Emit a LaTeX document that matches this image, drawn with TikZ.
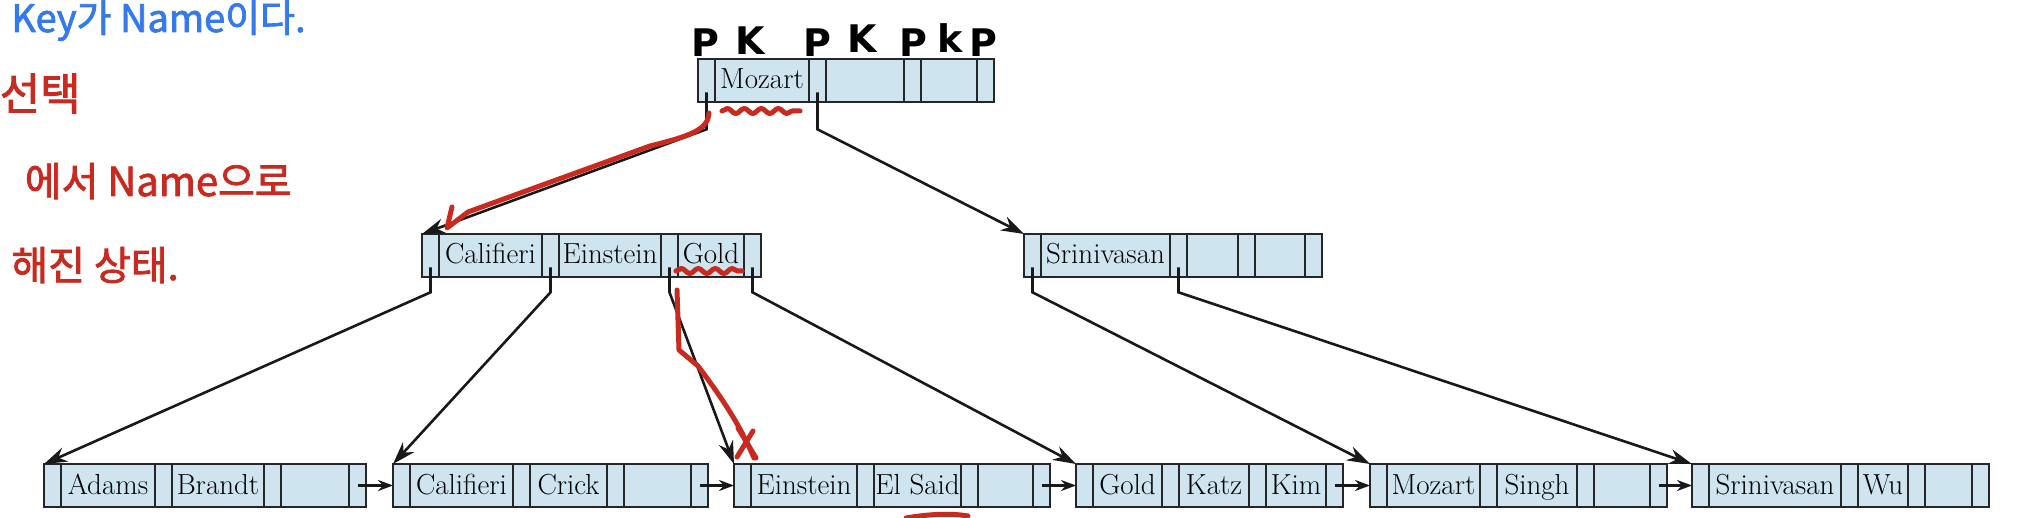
\documentclass[tikz,border=0pt]{standalone}
\usepackage{fontspec}
\newfontfamily\krfont[FakeBold=2]{Noto Sans CJK KR}
\newfontfamily\penfont{DejaVu Sans}
\usetikzlibrary{positioning,arrows.meta,calc,decorations.pathmorphing}

\definecolor{cellblue}{RGB}{206,228,238}
\definecolor{redpen}{RGB}{200,42,32}
\definecolor{bluepen}{RGB}{52,122,238}

% one B+-tree node: name, top-left corner, then three (width, key) pairs
\newcommand{\bpnode}[8]{%
  \node[ptr, anchor=north west] (#1-p1) at #2 {};
  \node[key, minimum width=#3, right=0pt of #1-p1] (#1-k1) {#4};
  \node[ptr, right=0pt of #1-k1] (#1-p2) {};
  \node[key, minimum width=#5, right=0pt of #1-p2] (#1-k2) {#6};
  \node[ptr, right=0pt of #1-k2] (#1-p3) {};
  \node[key, minimum width=#7, right=0pt of #1-p3] (#1-k3) {#8};
  \node[ptr, right=0pt of #1-k3] (#1-p4) {};
}

\begin{document}
\begin{tikzpicture}[
  x=1pt, y=-1pt,
  line width=2.6pt,
  cell/.style={draw=black!85, fill=cellblue, line width=2.6pt, minimum height=43, inner sep=0pt, outer sep=0pt},
  ptr/.style={cell, minimum width=17},
  key/.style={cell, text height=22, text depth=5, font=\fontsize{29}{32}\selectfont},
  treeptr/.style={-{Stealth[length=23pt,width=15pt]}, black!90},
  nextptr/.style={-{Stealth[length=15pt,width=11pt]}, black!90},
  pen/.style={redpen, line width=5pt, line cap=round, line join=round},
  wave/.style={pen, decorate, decoration={snake, amplitude=2.5pt, segment length=17pt}},
  hand/.style={inner sep=0pt, font=\penfont\bfseries\fontsize{38}{40}\selectfont, anchor=south},
  note/.style={inner sep=0pt, font=\krfont\fontsize{40}{44}\selectfont},
]
\useasboundingbox (0,0) rectangle (2040,518);

% Root
\bpnode{root}{(698,59)}{94}{Mozart}{78}{}{56}{}

% Internal nodes
\bpnode{intl}{(422,234)}{103}{Califieri}{102}{Einstein}{66}{Gold}
\bpnode{intr}{(1024,234)}{129}{Srinivasan}{51}{}{50}{}

% Leaves
\bpnode{lfa}{(44,464)}{94}{Adams}{92}{Brandt}{68}{}
\bpnode{lfb}{(393,464)}{103}{Califieri}{77}{Crick}{67}{}
\bpnode{lfc}{(734,464)}{106}{Einstein}{87}{El Said}{55}{}
\bpnode{lfd}{(1076,464)}{69}{Gold}{70}{Katz}{60}{Kim}
\bpnode{lfe}{(1370,464)}{93}{Mozart}{80}{Singh}{56}{}
\bpnode{lff}{(1692,464)}{132}{Srinivasan}{50}{Wu}{47}{}

% Tree pointers
\draw[treeptr] ($(root-p1.center)!0.55!(root-p1.south)$) -- ++(0,37) -- (intl-p1.north west);
\draw[treeptr] ($(root-p2.center)!0.55!(root-p2.south)$) -- ++(0,37) -- (intr-p1.north west);
\draw[treeptr] ($(intl-p1.center)!0.55!(intl-p1.south)$) -- ++(0,25) -- (lfa-p1.north west);
\draw[treeptr] ($(intl-p2.center)!0.55!(intl-p2.south)$) -- ++(0,25) -- (lfb-p1.north west);
\draw[treeptr] ($(intl-p3.center)!0.55!(intl-p3.south)$) -- ++(0,25) -- (lfc-p1.north west);
\draw[treeptr] ($(intl-p4.center)!0.55!(intl-p4.south)$) -- ++(0,25) -- (lfd-p1.north west);
\draw[treeptr] ($(intr-p1.center)!0.55!(intr-p1.south)$) -- ++(0,25) -- (lfe-p1.north west);
\draw[treeptr] ($(intr-p2.center)!0.55!(intr-p2.south)$) -- ++(0,25) -- (lff-p1.north west);

% Leaf chain
\draw[nextptr] (lfa-p4.center) -- (lfb-p1.west);
\draw[nextptr] (lfb-p4.center) -- (lfc-p1.west);
\draw[nextptr] (lfc-p4.center) -- (lfd-p1.west);
\draw[nextptr] (lfd-p4.center) -- (lfe-p1.west);
\draw[nextptr] (lfe-p4.center) -- (lff-p1.west);

% Handwritten P / K marks over the root
\node[hand] (hwa) at (705,58) {P};
\node[hand] (hwb) at (750,56) {K};
\node[hand] (hwc) at (817,58) {P};
\node[hand] (hwd) at (862,54) {K};
\node[hand] (hwe) at (913,58) {P};
\node[hand] (hwf) at (950,54) {k};
\node[hand] (hwg) at (983,58) {P};

% Handwritten notes (left)
\node[note, bluepen, anchor=base west, font=\krfont\fontsize{38}{40}\selectfont] (notea) at (10,32) {Key가 Name이다.};
\node[note, redpen, anchor=base east, font=\krfont\fontsize{44}{48}\selectfont] (noteb) at (82,110) {선택};
\node[note, redpen, anchor=base east] (notec) at (293,196) {에서 Name으로};
\node[note, redpen, anchor=base east] (noted) at (180,280) {해진 상태.};

% Red pen strokes
\draw[pen] (709,113) .. controls (708,130) and (690,136) .. (650,146) -- (468,212) -- (447,228) -- (452,207);
\draw[wave] (722,111) -- (800,111);
\draw[wave] (676,271) -- (742,271);
\draw[pen] (677,290) -- (679,350) -- (698,366) .. controls (722,398) and (740,425) .. (754,458);
\draw[pen] (738,428) -- (756,458);
\draw[pen] (753,431) -- (737,457);
\draw[pen] (906,518) .. controls (930,514) and (950,513) .. (968,516);

\end{tikzpicture}
\end{document}
